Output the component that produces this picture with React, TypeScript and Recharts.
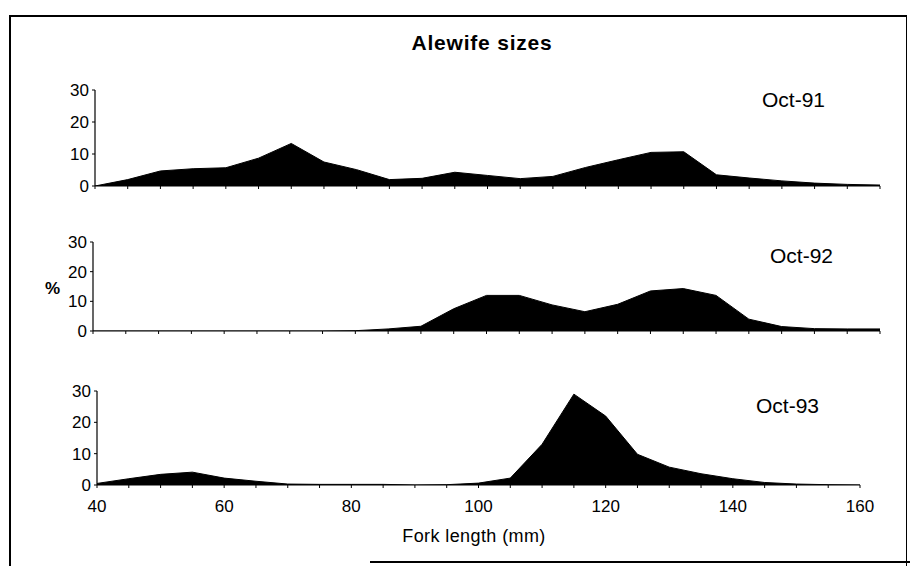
import React from "react";
import { AreaChart, Area, XAxis, YAxis } from "recharts";

// Fork length categories (mm)
const lengths = [40, 45, 50, 55, 60, 65, 70, 75, 80, 85, 90, 95, 100, 105, 110, 115, 120, 125, 130, 135, 140, 145, 150, 155, 160];

// Percent of fish in each length class
const oct91 = [0, 2, 4.7, 5.4, 5.7, 8.7, 13.3, 7.5, 5.1, 2, 2.4, 4.3, 3.3, 2.3, 3, 5.8, 8.2, 10.5, 10.7, 3.5, 2.5, 1.6, 0.9, 0.5, 0.3];
const oct92 = [0, 0, 0, 0, 0, 0, 0, 0, 0.1, 0.7, 1.6, 7.5, 12, 12, 8.8, 6.5, 9, 13.5, 14.3, 12, 4, 1.5, 0.8, 0.7, 0.7];
const oct93 = [0.5, 2, 3.4, 4.1, 2.2, 1.2, 0.3, 0.2, 0.2, 0.2, 0, 0.1, 0.6, 2.2, 13, 29, 22, 9.8, 5.7, 3.6, 2, 0.8, 0.3, 0.1, 0];

const yTicks = [0, 10, 20, 30];
const xLabelTicks = [40, 60, 80, 100, 120, 140, 160];

const panelLabels = ["Oct-91", "Oct-92", "Oct-93"];
const chartTitle = "Alewife sizes";
const xTitle = "Fork length (mm)";
const yTitle = "%";

const FONT = '"Liberation Sans", Arial, Helvetica, sans-serif';

const build = (series: number[]) => lengths.map((len, i) => ({ len, v: series[i] }));

const EmptyTick = () => <g />;

const BottomTick = (props: any) => {
  const { x, y, payload } = props;
  if (!xLabelTicks.includes(payload.value)) return <g />;
  return (
    <text x={x} y={y} dy="0.71em" textAnchor="middle" fontSize={17} fontFamily={FONT} fill="#000">
      {payload.value}
    </text>
  );
};

type PanelProps = {
  series: number[];
  top: number;
  height: number;
  plotLeft: number;
  plotRight: number;
  plotTop: number;
  plotBottom: number;
  xAxisHeight: number;
  showLabels: boolean;
};

const Panel = ({ series, top, height, plotLeft, plotRight, plotTop, plotBottom, xAxisHeight, showLabels }: PanelProps) => {
  const yAxisWidth = 40;
  const margin = {
    top: plotTop - top,
    bottom: top + height - plotBottom - xAxisHeight,
    left: plotLeft - yAxisWidth,
    right: 912 - plotRight,
  };
  return (
    <div style={{ position: "absolute", left: 0, top, width: 912, height }}>
      <AreaChart width={912} height={height} data={build(series)} margin={margin}>
        <XAxis
          dataKey="len"
          type="number"
          domain={[40, 160]}
          ticks={lengths}
          interval={0}
          height={xAxisHeight}
          tickSize={3}
          tickMargin={12}
          axisLine={{ stroke: "#000", strokeWidth: 1.2 }}
          tickLine={{ stroke: "#000" }}
          tick={showLabels ? <BottomTick /> : <EmptyTick />}
        />
        <YAxis
          type="number"
          domain={[0, 30]}
          ticks={yTicks}
          interval={0}
          width={yAxisWidth}
          tickSize={3}
          tickMargin={3}
          axisLine={{ stroke: "#000", strokeWidth: 1.2 }}
          tickLine={{ stroke: "#000" }}
          tick={{ fontSize: 17, fill: "#000", fontFamily: FONT }}
          allowDataOverflow
        />
        <Area
          type="linear"
          dataKey="v"
          stroke="#000"
          strokeWidth={1}
          fill="#000"
          fillOpacity={1}
          dot={false}
          activeDot={false}
          isAnimationActive={false}
        />
      </AreaChart>
    </div>
  );
};

const textStyle = (left: number, centerY: number, size: number, extra: React.CSSProperties = {}): React.CSSProperties => ({
  position: "absolute",
  left,
  top: centerY - size * 0.6,
  height: size * 1.2,
  lineHeight: `${size * 1.2}px`,
  fontSize: size,
  fontFamily: FONT,
  color: "#000",
  whiteSpace: "nowrap",
  ...extra,
});

export default function App() {
  return (
    <div style={{ position: "absolute", left: 0, top: 0, width: 912, height: 566, background: "#fff", overflow: "hidden" }}>
      {/* frame */}
      <div
        style={{
          position: "absolute",
          left: 9,
          top: 15,
          width: 898,
          height: 560,
          borderLeft: "2px solid #000",
          borderTop: "2px solid #000",
          borderRight: "1px solid #000",
          boxSizing: "border-box",
        }}
      />
      <div style={{ position: "absolute", left: 370, top: 561, width: 540, height: 2, background: "#000" }} />

      {/* title */}
      <div style={{ ...textStyle(0, 43, 21, { fontWeight: "bold", letterSpacing: 0.8 }), width: 964, textAlign: "center" }}>
        {chartTitle}
      </div>

      <Panel series={oct91} top={70} height={130} plotLeft={95} plotRight={880} plotTop={90} plotBottom={186} xAxisHeight={10} showLabels={false} />
      <Panel series={oct92} top={225} height={120} plotLeft={93} plotRight={880} plotTop={242} plotBottom={331} xAxisHeight={10} showLabels={false} />
      <Panel series={oct93} top={375} height={150} plotLeft={97} plotRight={860} plotTop={391} plotBottom={485} xAxisHeight={35} showLabels={true} />

      <div style={textStyle(762, 100, 21)}>{panelLabels[0]}</div>
      <div style={textStyle(770, 256, 21)}>{panelLabels[1]}</div>
      <div style={textStyle(756, 406, 21)}>{panelLabels[2]}</div>

      <div style={textStyle(45, 289, 17, { fontWeight: "bold" })}>{yTitle}</div>

      <div style={{ ...textStyle(0, 537, 18, { letterSpacing: 0.4 }), width: 948, textAlign: "center" }}>{xTitle}</div>
    </div>
  );
}
